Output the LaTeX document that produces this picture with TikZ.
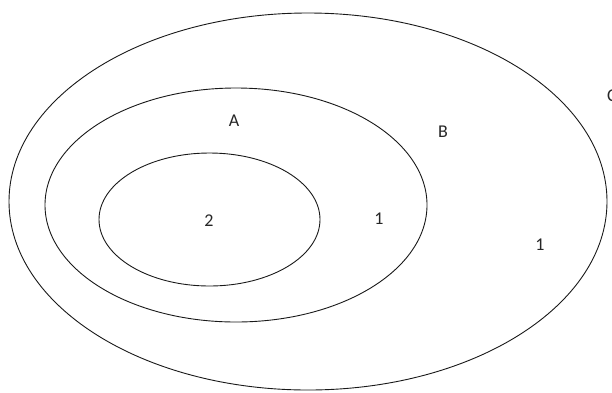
\documentclass[tikz,border=0pt]{standalone}
\usepackage{fontspec}
\setmainfont{Carlito}
\usetikzlibrary{positioning}

\begin{document}
\begin{tikzpicture}[
    x=1pt, y=-1pt,
    setline/.style={draw=black!90, line width=0.9pt},
    setlabel/.style={font=\fontsize{18}{21}\selectfont, text=black!85, inner sep=0pt}
]
\useasboundingbox (0,0) rectangle (612,392);
\clip (0,0) rectangle (612,392);
% sets, outer to inner
\draw[setline] (308,201.5) ellipse [x radius=299, y radius=188.5];
\draw[setline] (236,205) ellipse [x radius=191, y radius=117];
\draw[setline] (209.5,219.5) ellipse [x radius=110.5, y radius=66.5];
% names
\node[setlabel] (labA) at (234,121) {A};
\node[setlabel] (labB) at (443,132) {B};
\node[setlabel] (labC) at (612,96) {C};
% counts
\node[setlabel] (inA) at (209,221) {2};
\node[setlabel] (inB) at (379,219) {1};
\node[setlabel] (inC) at (540,245) {1};
\end{tikzpicture}
\end{document}
